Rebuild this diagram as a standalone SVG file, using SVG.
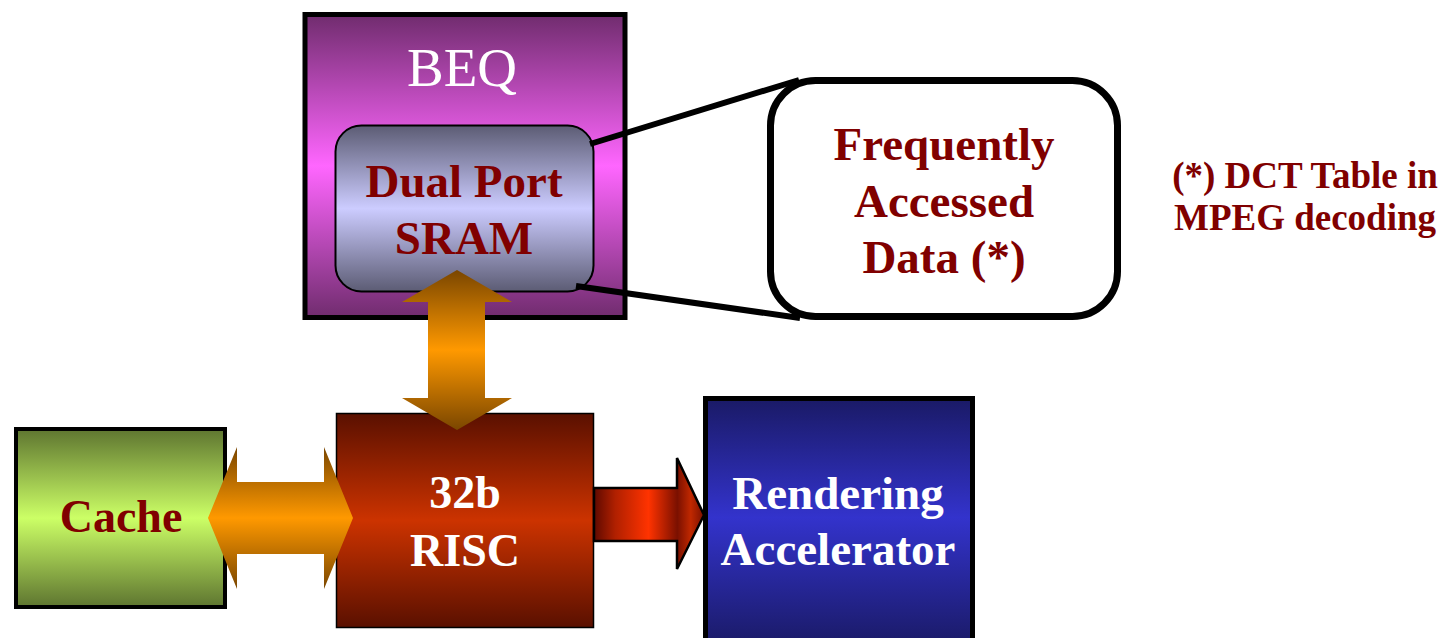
<svg xmlns="http://www.w3.org/2000/svg" width="1447" height="638" viewBox="0 0 1447 638">
<defs>
<linearGradient id="gBeq" x1="0" y1="0" x2="0" y2="1"><stop offset="0" stop-color="#702c6e"/><stop offset="0.5" stop-color="#ff66ff"/><stop offset="1" stop-color="#702c6e"/></linearGradient>
<linearGradient id="gSram" x1="0" y1="0" x2="0" y2="1"><stop offset="0" stop-color="#5c5c74"/><stop offset="0.5" stop-color="#ccccff"/><stop offset="1" stop-color="#5c5c74"/></linearGradient>
<linearGradient id="gCache" x1="0" y1="0" x2="0" y2="1"><stop offset="0" stop-color="#5e7530"/><stop offset="0.5" stop-color="#ccff66"/><stop offset="1" stop-color="#5e7530"/></linearGradient>
<linearGradient id="gRisc" x1="0" y1="0" x2="0" y2="1"><stop offset="0" stop-color="#5a1000"/><stop offset="0.5" stop-color="#cc3300"/><stop offset="1" stop-color="#5a1000"/></linearGradient>
<linearGradient id="gRend" x1="0" y1="0" x2="0" y2="1"><stop offset="0" stop-color="#1a1a66"/><stop offset="0.48" stop-color="#3333cc"/><stop offset="1" stop-color="#1a1a66"/></linearGradient>
<linearGradient id="gOrV" x1="0" y1="0" x2="0" y2="1"><stop offset="0" stop-color="#7a4600"/><stop offset="0.5" stop-color="#ff9900"/><stop offset="1" stop-color="#7a4600"/></linearGradient>
<linearGradient id="gRed" gradientUnits="userSpaceOnUse" x1="593" y1="0" x2="704" y2="0"><stop offset="0" stop-color="#5a0800"/><stop offset="0.2" stop-color="#b02000"/><stop offset="0.5" stop-color="#ff3300"/><stop offset="0.76" stop-color="#7a1000"/><stop offset="0.88" stop-color="#c02800"/><stop offset="1" stop-color="#7a1000"/></linearGradient>
</defs>
<style>
.b{font-family:"Liberation Serif","Times New Roman",serif;font-weight:bold;text-anchor:middle}
.dr{fill:#800000}
.wh{fill:#ffffff}
.ln{stroke:#000;stroke-width:6;fill:none}
</style>
<g id="beq">
<rect x="305" y="14.5" width="320" height="303" fill="url(#gBeq)" stroke="#000" stroke-width="5"/>
<text x="462" y="86" font-family="Liberation Serif, Times New Roman, serif" font-size="55" fill="#fff" text-anchor="middle">BEQ</text>
</g>
<g id="cache">
<rect x="16" y="429" width="209" height="178" fill="url(#gCache)" stroke="#000" stroke-width="4"/>
<text x="121" y="532" class="b dr" font-size="46">Cache</text>
</g>
<g id="risc">
<rect x="336.5" y="413.5" width="257" height="214" fill="url(#gRisc)" stroke="#000" stroke-width="1.5"/>
<text x="465" y="508" class="b wh" font-size="46">32b</text>
<text x="465" y="566" class="b wh" font-size="46">RISC</text>
</g>
<g id="rendering">
<rect x="705.5" y="398.5" width="267" height="248" fill="url(#gRend)" stroke="#000" stroke-width="5"/>
<text x="838" y="509" class="b wh" font-size="47">Rendering</text>
<text x="838" y="565" class="b wh" font-size="47">Accelerator</text>
</g>
<g id="sram">
<rect x="335.5" y="125.5" width="258" height="166" rx="26" fill="url(#gSram)" stroke="#000" stroke-width="2"/>
<text x="464" y="197" class="b dr" font-size="47">Dual Port</text>
<text x="464" y="254" class="b dr" font-size="47">SRAM</text>
</g>
<g id="connectors">
<line x1="590" y1="144" x2="799" y2="80" class="ln"/>
<line x1="576" y1="286" x2="800" y2="318" class="ln"/>
<path d="M457,270 L512,302 L485,302 L485,398 L512,398 L457,430 L402,398 L428,398 L428,302 L402,302 Z" fill="url(#gOrV)"/>
<path d="M208,518 L237,447 L237,482 L324,482 L324,447 L353,518 L324,589 L324,554 L237,554 L237,589 Z" fill="url(#gOrV)"/>
<path d="M594,488 L677,488 L677,458 L704,515 L677,569 L677,541 L594,541 Z" fill="url(#gRed)" stroke="#000" stroke-width="2.5" stroke-linejoin="miter"/>
</g>
<g id="callout">
<rect x="770.5" y="80.5" width="347" height="236" rx="45" fill="#fff" stroke="#000" stroke-width="7"/>
<text x="944" y="160" class="b dr" font-size="47">Frequently</text>
<text x="944" y="217" class="b dr" font-size="47">Accessed</text>
<text x="944" y="273" class="b dr" font-size="47">Data (*)</text>
</g>
<g id="note">
<text x="1305" y="188" class="b dr" font-size="37">(*) DCT Table in</text>
<text x="1305" y="230" class="b dr" font-size="37">MPEG decoding</text>
</g>
</svg>
